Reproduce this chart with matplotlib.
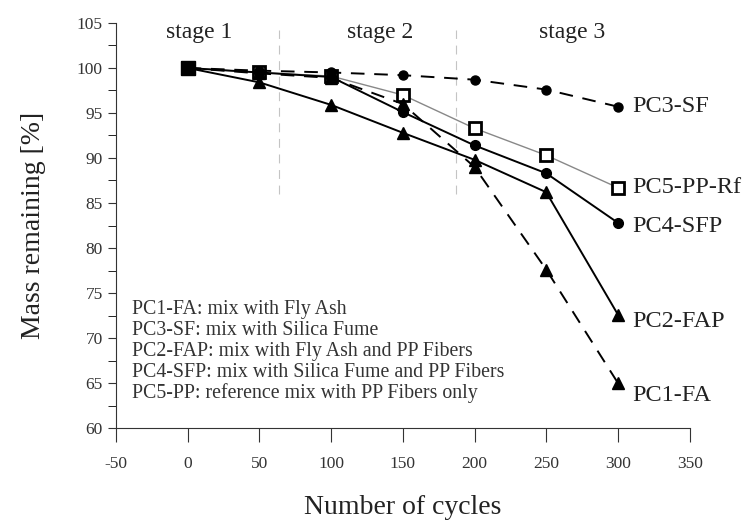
import matplotlib
matplotlib.use("Agg")
from matplotlib import pyplot as plt
import numpy as np

# data
cycles = [0, 50, 100, 150, 200, 250, 300]
pc3_sf = [100, 99.7, 99.5, 99.2, 98.7, 97.6, 95.7]
pc5_pp = [100, 99.5, 99.1, 97.0, 93.3, 90.3, 86.7]
pc4_sfp = [100, 99.5, 99.0, 95.1, 91.4, 88.3, 82.8]
pc2_fap = [100, 98.4, 95.9, 92.8, 89.8, 86.2, 72.6]
pc1_fa = [100, 99.4, 98.9, 96.0, 89.0, 77.6, 65.0]

legend_lines = ["PC1-FA: mix with Fly Ash",
                "PC3-SF: mix with Silica Fume",
                "PC2-FAP: mix with Fly Ash and PP Fibers",
                "PC4-SFP: mix with Silica Fume and PP Fibers",
                "PC5-PP: reference mix with PP Fibers only"]
stages = ["stage 1", "stage 2", "stage 3"]
stage_x = [8, 134, 268]
stage_bounds = [64, 187]

plt.rcParams['font.family'] = ['Liberation Serif', 'DejaVu Serif']
plt.rcParams['axes.unicode_minus'] = False

fig = plt.figure(figsize=(7.48, 5.22), dpi=100)
ax = fig.add_axes([0.155, 0.180, 0.767, 0.776])

# stage separators
for b in stage_bounds:
    ax.plot([b, b], [86, 104.2], color="#c4c4c4", lw=0.8, ls=(0, (8, 6)))

# series (PC5 first so the others sit on top of it)
ax.plot(cycles, pc5_pp, color="#888888", lw=1.0, marker="s", ms=8,
        mfc="white", mec="black", mew=2)
ax.plot(cycles, pc3_sf, color="black", lw=1.4, ls=(0, (7, 5)), marker="o", ms=6.5)
ax.plot(cycles, pc4_sfp, color="black", lw=1.4, marker="o", ms=7)
ax.plot(cycles, pc2_fap, color="black", lw=1.4, marker="^", ms=8)
ax.plot(cycles, pc1_fa, color="black", lw=1.4, ls=(0, (7, 5)), marker="^", ms=8)
ax.plot([0], [100], color="black", marker="s", ms=10)

# end labels
ends = [("PC3-SF", pc3_sf[-1], 0), ("PC5-PP-Rf", pc5_pp[-1], 0),
        ("PC4-SFP", pc4_sfp[-1], -3), ("PC2-FAP", pc2_fap[-1], -5),
        ("PC1-FA", pc1_fa[-1], -9)]
for name, v, dy in ends:
    ax.annotate(name, (300, v), xytext=(10, dy), textcoords="offset points",
                fontsize=17.5, va="center", ha="left", color="#222222")

for s, x in zip(stages, stage_x):
    ax.text(x, 103.9, s, fontsize=17, ha="center", va="center", color="#222222")

# description block, one line per mix
for i, line in enumerate(legend_lines):
    ax.text(-39, 73.2 - i * 2.33, line, fontsize=14.3, va="center", ha="left",
            color="#333333")

ax.set_xlim(-50, 350)
ax.set_ylim(60, 105)
ax.set_xticks(np.arange(-50, 351, 50))
ax.set_yticks(np.arange(60, 106, 5))
ax.set_yticks(np.arange(60, 105.1, 2.5), minor=True)
ax.tick_params(axis="both", direction="out", labelsize=12.5, colors="#333333")
ax.tick_params(axis="x", length=10, pad=10)
ax.tick_params(axis="y", which="major", length=6)
ax.tick_params(axis="y", which="minor", length=6)
ax.spines["top"].set_visible(False)
ax.spines["right"].set_visible(False)
ax.spines["left"].set_color("#333333")
ax.spines["bottom"].set_color("#333333")

ax.set_xlabel("Number of cycles", fontsize=20, color="#222222", labelpad=17)
ax.set_ylabel("Mass remaining [%]", fontsize=20, color="#222222", labelpad=22)

fig.savefig("out.png", dpi=100)
